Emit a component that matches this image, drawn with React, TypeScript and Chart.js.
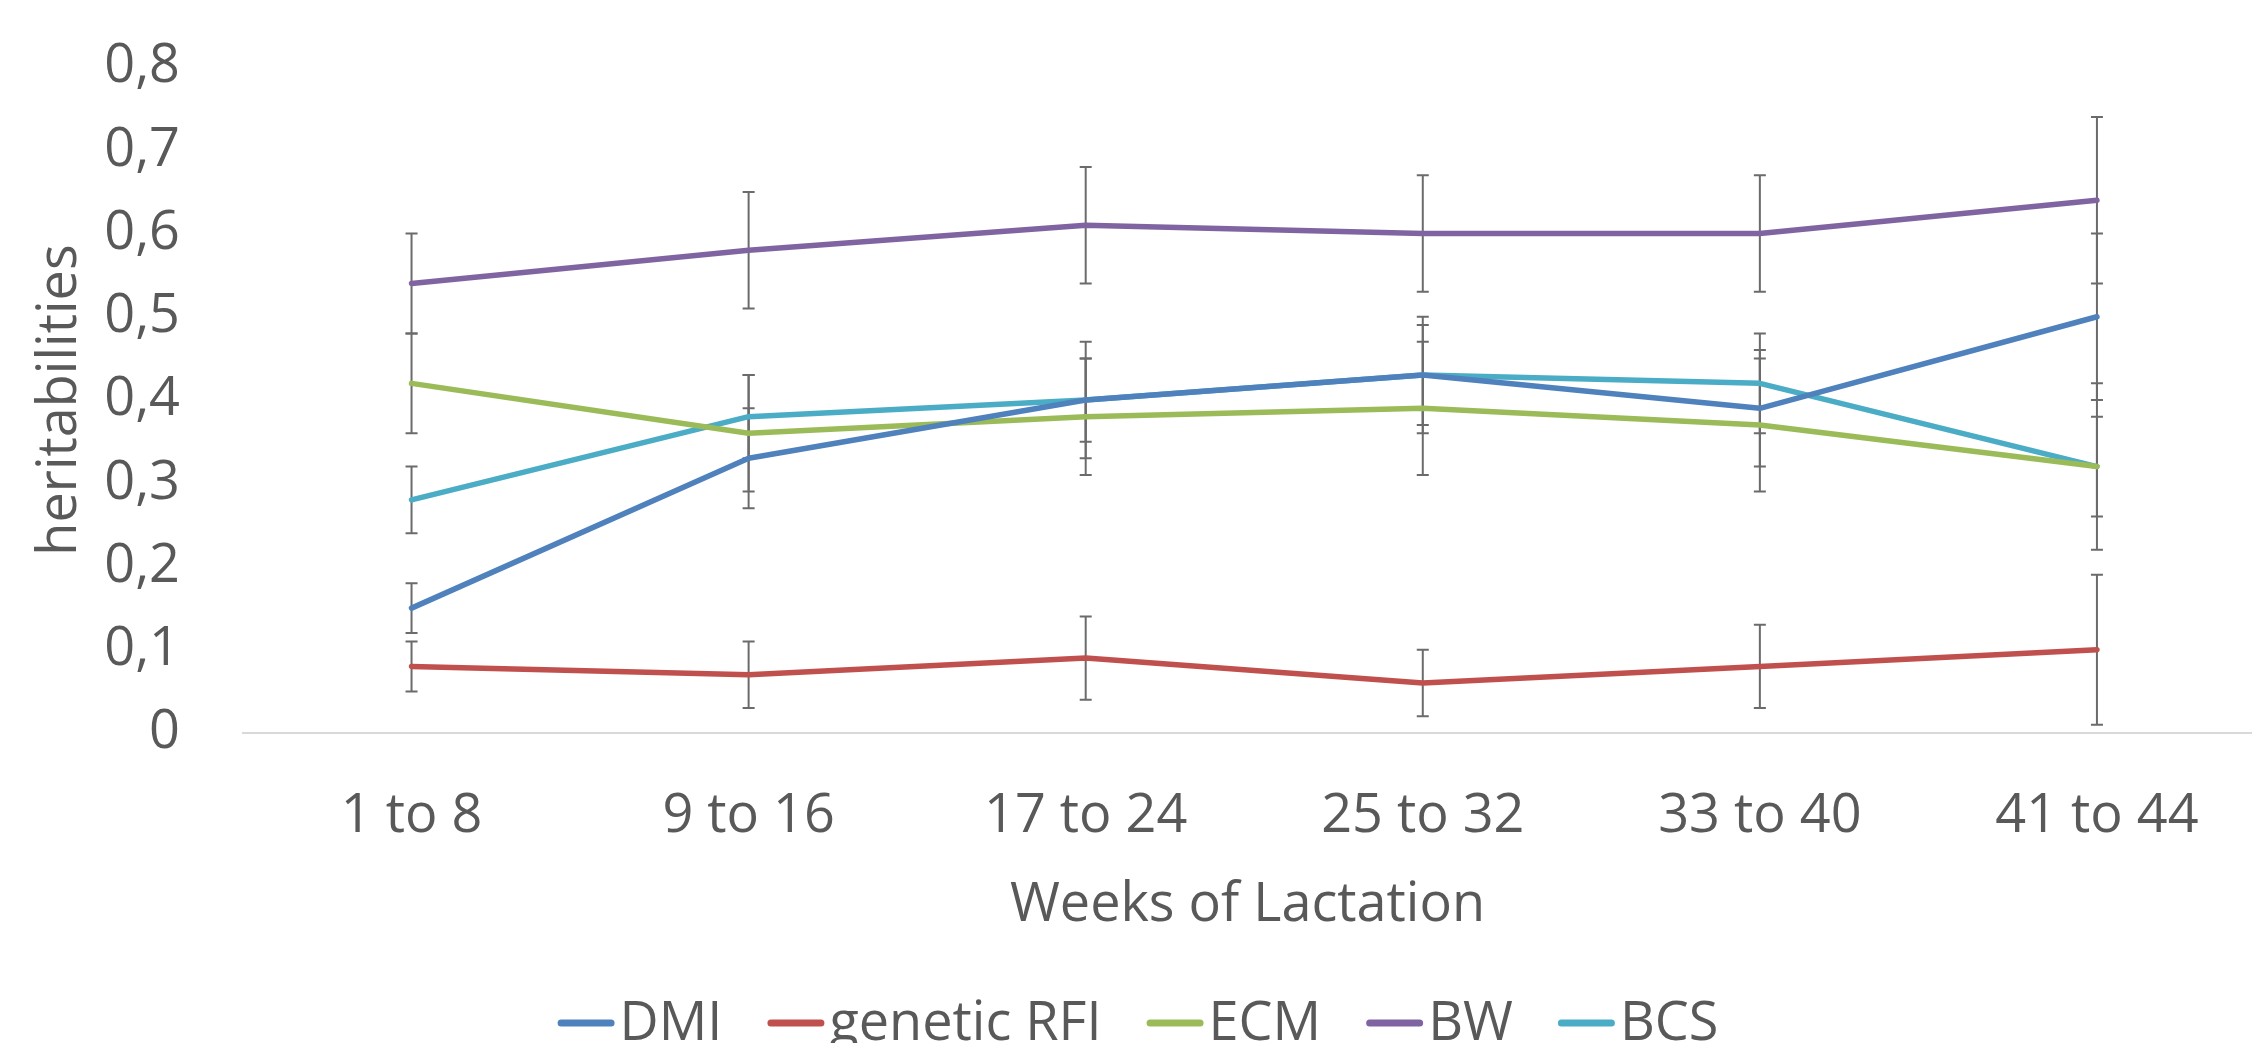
import React, { useEffect, useRef } from 'react';
import { Chart, registerables } from 'chart.js';

Chart.register(...registerables);

const categories = ['1 to 8', '9 to 16', '17 to 24', '25 to 32', '33 to 40', '41 to 44'];
const yTickValues = [0, 0.1, 0.2, 0.3, 0.4, 0.5, 0.6, 0.7, 0.8];

const seriesNames = ['DMI', 'genetic RFI', 'ECM', 'BW', 'BCS'];
const seriesColors = ['#4F81BD', '#C0504D', '#9BBB59', '#8064A2', '#4BACC6'];

const dmiValues = [0.15, 0.33, 0.40, 0.43, 0.39, 0.50];
const dmiErrors = [0.03, 0.06, 0.07, 0.07, 0.07, 0.10];
const rfiValues = [0.08, 0.07, 0.09, 0.06, 0.08, 0.10];
const rfiErrors = [0.03, 0.04, 0.05, 0.04, 0.05, 0.09];
const ecmValues = [0.42, 0.36, 0.38, 0.39, 0.37, 0.32];
const ecmErrors = [0.06, 0.07, 0.07, 0.08, 0.08, 0.06];
const bwValues = [0.54, 0.58, 0.61, 0.60, 0.60, 0.64];
const bwErrors = [0.06, 0.07, 0.07, 0.07, 0.07, 0.10];
const bcsValues = [0.28, 0.38, 0.40, 0.43, 0.42, 0.32];
const bcsErrors = [0.04, 0.05, 0.05, 0.06, 0.06, 0.10];

const xAxisTitle = 'Weeks of Lactation';
const yAxisTitle = 'heritabilities';

const allValues = [dmiValues, rfiValues, ecmValues, bwValues, bcsValues];
const allErrors = [dmiErrors, rfiErrors, ecmErrors, bwErrors, bcsErrors];

const FONT_FAMILY = '"Open Sans", sans-serif';
const FONT_SIZE = 54;
const TEXT_COLOR = '#595959';

const errorBarPlugin = {
  id: 'errorBars',
  beforeDatasetsDraw(chart: any) {
    const { ctx, scales } = chart;
    const xs = scales.x;
    const ys = scales.y;
    ctx.save();
    ctx.strokeStyle = '#6b6b6b';
    ctx.lineWidth = 2;
    chart.data.datasets.forEach((ds: any, di: number) => {
      const errs = allErrors[di];
      ds.data.forEach((pt: any, j: number) => {
        const x = xs.getPixelForValue(pt.x);
        const yTop = ys.getPixelForValue(pt.y + errs[j]);
        const yBot = ys.getPixelForValue(pt.y - errs[j]);
        ctx.beginPath();
        ctx.moveTo(x, yTop);
        ctx.lineTo(x, yBot);
        ctx.moveTo(x - 6, yTop);
        ctx.lineTo(x + 6, yTop);
        ctx.moveTo(x - 6, yBot);
        ctx.lineTo(x + 6, yBot);
        ctx.stroke();
      });
    });
    ctx.restore();
  },
};

const legendPlugin = {
  id: 'customLegend',
  afterDraw(chart: any) {
    const { ctx } = chart;
    ctx.save();
    ctx.font = `${FONT_SIZE}px ${FONT_FAMILY}`;
    const boxW = 57;
    const boxH = 7;
    const gapText = 5;
    const gapItem = 45;
    const widths = seriesNames.map((n) => ctx.measureText(n).width);
    const total =
      widths.reduce((a, w) => a + boxW + gapText + w, 0) + gapItem * (seriesNames.length - 1);
    let x = 1138 - total / 2;
    const boxY = 1023;
    const baseY = 1040;
    seriesNames.forEach((name, i) => {
      ctx.fillStyle = seriesColors[i];
      ctx.beginPath();
      const r = boxH / 2;
      ctx.moveTo(x + r, boxY - r);
      ctx.lineTo(x + boxW - r, boxY - r);
      ctx.arc(x + boxW - r, boxY, r, -Math.PI / 2, Math.PI / 2);
      ctx.lineTo(x + r, boxY + r);
      ctx.arc(x + r, boxY, r, Math.PI / 2, (3 * Math.PI) / 2);
      ctx.fill();
      x += boxW + gapText;
      ctx.fillStyle = TEXT_COLOR;
      ctx.textBaseline = 'alphabetic';
      ctx.textAlign = 'left';
      ctx.fillText(name, x, baseY);
      x += widths[i] + gapItem;
    });
    ctx.restore();
  },
};

export default function App() {
  const canvasRef = useRef<HTMLCanvasElement | null>(null);

  useEffect(() => {
    document.body.style.margin = '0';
    document.body.style.overflow = 'hidden';
    const canvas = canvasRef.current;
    if (!canvas) return;

    const datasets = seriesNames.map((name, i) => ({
      label: name,
      data: allValues[i].map((v, j) => ({ x: j, y: v })),
      borderColor: seriesColors[i],
      backgroundColor: seriesColors[i],
      borderWidth: 5.5,
      pointRadius: 0,
      pointHoverRadius: 0,
      tension: 0,
      borderJoinStyle: 'round' as const,
      borderCapStyle: 'round' as const,
      fill: false,
    }));

    const chart = new Chart(canvas, {
      type: 'line',
      data: { datasets },
      plugins: [errorBarPlugin, legendPlugin],
      options: {
        animation: false,
        responsive: true,
        maintainAspectRatio: false,
        layout: { padding: { left: 0, right: 0, top: 67, bottom: 0 } },
        plugins: {
          legend: { display: false },
          tooltip: { enabled: false },
        },
        scales: {
          x: {
            type: 'linear',
            min: -0.5,
            max: 5.46,
            afterBuildTicks: (axis: any) => {
              axis.ticks = categories.map((_, i) => ({ value: i }));
            },
            afterFit: (scale: any) => {
              scale.height = 310;
            },
            grid: { display: false, drawTicks: true, tickLength: 51 },
            border: { display: true, color: '#d9d9d9', width: 2 },
            ticks: {
              autoSkip: false,
              maxRotation: 0,
              minRotation: 0,
              padding: 0,
              color: TEXT_COLOR,
              font: { family: FONT_FAMILY, size: FONT_SIZE },
              callback: (value: any) => categories[Math.round(Number(value))] ?? '',
            },
            title: {
              display: true,
              text: xAxisTitle,
              color: TEXT_COLOR,
              font: { family: FONT_FAMILY, size: FONT_SIZE },
              padding: { top: 0, bottom: 105 },
            },
          },
          y: {
            type: 'linear',
            min: 0,
            max: 0.8,
            afterBuildTicks: (axis: any) => {
              axis.ticks = yTickValues.map((v) => ({ value: v }));
            },
            afterFit: (scale: any) => {
              scale.width = 243;
            },
            grid: { display: false, drawTicks: true, tickLength: 63 },
            border: { display: false },
            ticks: {
              padding: 0,
              color: TEXT_COLOR,
              font: { family: FONT_FAMILY, size: FONT_SIZE },
              callback: (value: any) => {
                const v = Number(value);
                return v === 0 ? '0' : v.toFixed(1).replace('.', ',');
              },
            },
            title: {
              display: true,
              text: yAxisTitle,
              color: TEXT_COLOR,
              font: { family: FONT_FAMILY, size: FONT_SIZE },
              padding: { top: 28, bottom: 0 },
            },
          },
        },
      },
    });

    return () => {
      chart.destroy();
    };
  }, []);

  return (
    <div style={{ position: 'relative', width: '2252px', height: '1043px' }}>
      <canvas ref={canvasRef} style={{ display: 'block' }} />
    </div>
  );
}
